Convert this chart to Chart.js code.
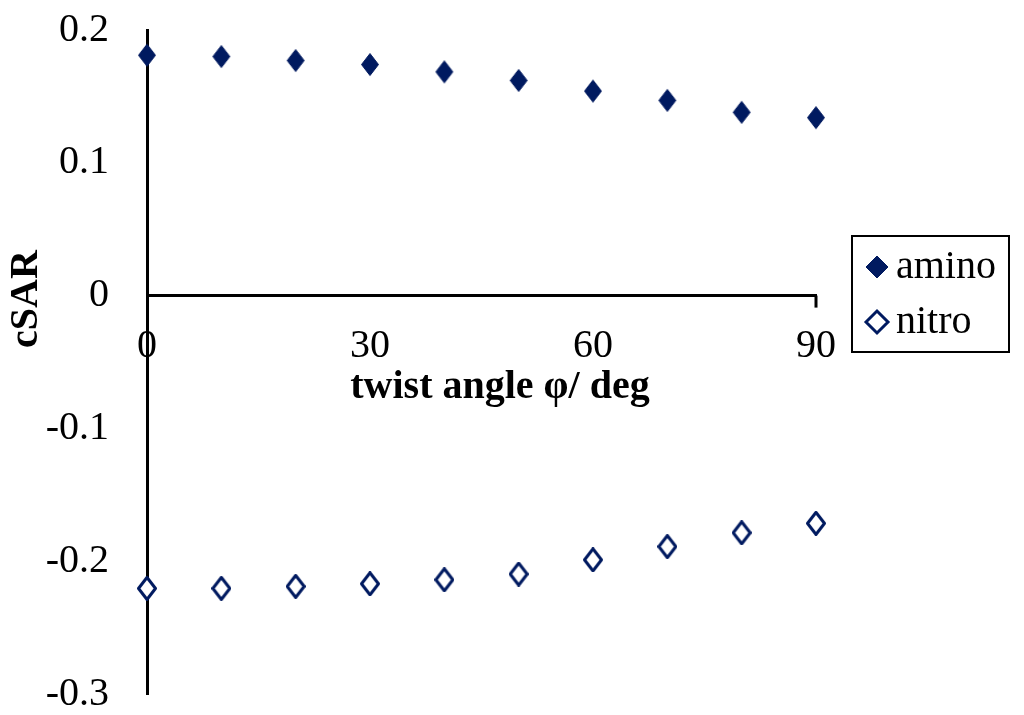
<!DOCTYPE html>
<html>
<head>
<meta charset="utf-8">
<script src="https://cdn.jsdelivr.net/npm/chart.js@4"></script>
<style>
  html, body { margin: 0; padding: 0; background: #fff; }
  #wrap { position: relative; width: 1024px; height: 715px; }
</style>
</head>
<body>
<div id="wrap"><canvas id="chart" width="1024" height="715"></canvas></div>
<script>
// --- DATA ---
const angles = [0, 10, 20, 30, 40, 50, 60, 70, 80, 90];
const amino = [0.181, 0.180, 0.177, 0.174, 0.1685, 0.162, 0.154, 0.147, 0.138, 0.134];
const nitro = [-0.2205, -0.2205, -0.219, -0.217, -0.214, -0.2097, -0.199, -0.189, -0.1786, -0.1715];
const xTicks = [0, 30, 60, 90];
const yTicks = [-0.3, -0.2, -0.1, 0, 0.1, 0.2];
const seriesNames = ['amino', 'nitro'];
const xTitle = 'twist angle \u03C6/ deg';
const yTitle = 'cSAR';

const navy = '#001a60';
const serif = '"Liberation Serif", "Times New Roman", serif';

// Diamonds a bit taller than wide, like the original markers
function diamond(filled) {
    const c = document.createElement('canvas');
    c.width = 20; c.height = 25;
    const g = c.getContext('2d');
    g.beginPath();
    g.moveTo(10, 1.5);
    g.lineTo(18.5, 12.5);
    g.lineTo(10, 23.5);
    g.lineTo(1.5, 12.5);
    g.closePath();
    g.lineJoin = 'round';
    g.strokeStyle = navy;
    if (filled) {
        g.fillStyle = navy;
        g.fill();
        g.lineWidth = 1;
    } else {
        g.fillStyle = '#fff';
        g.fill();
        g.lineWidth = 3;
    }
    g.stroke();
    return c;
}

// Titles + legend box drawn on the canvas
const annotate = {
    id: 'annotate',
    afterDraw(chart) {
        const ctx = chart.ctx;
        ctx.save();
        ctx.fillStyle = '#000';
        ctx.font = 'bold 40px ' + serif;
        ctx.textAlign = 'center';
        ctx.textBaseline = 'alphabetic';
        ctx.fillText(xTitle, 500, 398);

        ctx.save();
        ctx.translate(37, 299);
        ctx.rotate(-Math.PI / 2);
        ctx.fillText(yTitle, 0, 0);
        ctx.restore();

        // small end tick of the x axis
        const xs = chart.scales.x, ys = chart.scales.y;
        const ex = xs.getPixelForValue(90), ey = ys.getPixelForValue(0);
        ctx.lineWidth = 3;
        ctx.strokeStyle = '#000';
        ctx.beginPath();
        ctx.moveTo(ex, ey);
        ctx.lineTo(ex, ey + 12);
        ctx.stroke();

        // legend
        ctx.lineWidth = 2;
        ctx.strokeRect(852, 236, 157, 116);
        const rows = [267, 322];
        chart.data.datasets.forEach((ds, i) => {
            const cy = rows[i], cx = 877, r = 11;
            ctx.beginPath();
            ctx.moveTo(cx - r, cy);
            ctx.lineTo(cx, cy - r);
            ctx.lineTo(cx + r, cy);
            ctx.lineTo(cx, cy + r);
            ctx.closePath();
            ctx.fillStyle = i === 0 ? navy : '#fff';
            ctx.fill();
            ctx.lineWidth = i === 0 ? 1 : 3;
            ctx.strokeStyle = navy;
            ctx.stroke();
            ctx.fillStyle = '#000';
            ctx.font = '40px ' + serif;
            ctx.textAlign = 'left';
            ctx.fillText(ds.label, 896, cy + 11);
        });
        ctx.restore();
    }
};

new Chart(document.getElementById('chart'), {
    type: 'scatter',
    data: {
        datasets: [{
            label: seriesNames[0],
            data: angles.map((x, i) => ({ x: x, y: amino[i] })),
            pointStyle: diamond(true),
            pointRadius: 11,
            clip: false
        }, {
            label: seriesNames[1],
            data: angles.map((x, i) => ({ x: x, y: nitro[i] })),
            pointStyle: diamond(false),
            pointRadius: 11,
            clip: false
        }]
    },
    options: {
        responsive: false,
        animation: false,
        layout: { padding: { left: 0, top: 30, right: 208, bottom: 21 } },
        plugins: {
            legend: { display: false },
            tooltip: { enabled: false }
        },
        scales: {
            x: {
                type: 'linear',
                position: { y: 0 },
                min: 0, max: 90,
                afterBuildTicks: s => { s.ticks = xTicks.map(v => ({ value: v })); },
                afterFit: s => { s.height = 0; s.paddingLeft = 0; s.paddingRight = 0; },
                grid: { display: false, drawTicks: false },
                border: { display: true, color: '#000', width: 3 },
                ticks: {
                    color: '#000', font: { family: serif, size: 40 },
                    padding: 27, maxRotation: 0, autoSkip: false
                }
            },
            y: {
                type: 'linear',
                position: 'left',
                min: -0.3, max: 0.2,
                afterBuildTicks: s => { s.ticks = yTicks.map(v => ({ value: v })); },
                afterFit: s => { s.width = 147; s.paddingTop = 0; s.paddingBottom = 0; },
                grid: { display: false, drawTicks: false },
                border: { display: true, color: '#000', width: 3 },
                ticks: {
                    color: '#000', font: { family: serif, size: 40 },
                    padding: 38, autoSkip: false,
                    callback: v => String(Math.round(v * 10) / 10)
                }
            }
        }
    },
    plugins: [annotate]
});
</script>
</body>
</html>
